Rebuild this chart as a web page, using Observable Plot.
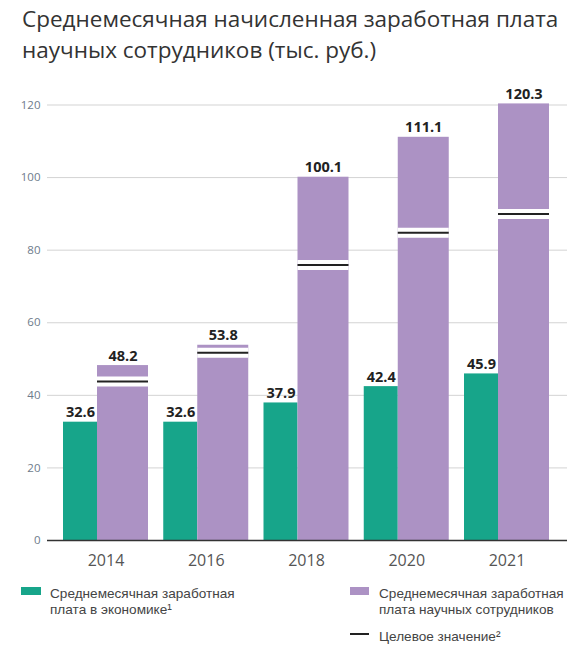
<!DOCTYPE html>
<html>
<head>
<meta charset="utf-8">
<script src="https://cdn.jsdelivr.net/npm/d3@7"></script>
<script src="https://cdn.jsdelivr.net/npm/@observablehq/plot@0.6"></script>
<style>
  html, body { margin: 0; padding: 0; background: #fff; }
  body { width: 583px; height: 645px; position: relative; font-family: "Open Sans", sans-serif; overflow: hidden; }
  #title { position: absolute; left: 22px; top: 3px; font-size: 22.5px; line-height: 31px; color: #333; font-weight: 400; white-space: nowrap; }
  #chart { position: absolute; left: 0; top: 80px; }
  .leg { position: absolute; font-family: "Liberation Sans", sans-serif; font-size: 13.6px; line-height: 15.3px; color: #444; white-space: nowrap; }
  .sw { position: absolute; }
</style>
</head>
<body>
<div id="title">Среднемесячная начисленная заработная плата<br>научных сотрудников (тыс. руб.)</div>
<div id="chart"></div>
<div class="sw" style="left:21px;top:587px;width:20px;height:8px;background:#17a58a"></div>
<div class="leg" style="left:50px;top:586.3px">Среднемесячная заработная</div>
<div class="leg" style="left:50px;top:601.6px">плата в экономике¹</div>
<div class="sw" style="left:350px;top:587px;width:19px;height:8px;background:#ac92c4"></div>
<div class="leg" style="left:379px;top:586.3px">Среднемесячная заработная</div>
<div class="leg" style="left:379px;top:601.6px">плата научных сотрудников</div>
<div class="sw" style="left:350px;top:633px;width:19px;height:2px;background:#222"></div>
<div class="leg" style="left:379px;top:628.6px">Целевое значение²</div>
<script>
const years = ["2014", "2016", "2018", "2020", "2021"];
const economy = [32.6, 32.6, 37.9, 42.4, 45.9];
const scientists = [48.2, 53.8, 100.1, 111.1, 120.3];
const targets = [43.8, 51.7, 75.9, 84.8, 90.0];
const yTicks = [0, 20, 40, 60, 80, 100, 120];

const TEAL = "#17a58a";
const PURPLE = "#ac92c4";
const TW = 34 / 100.25;   // teal bar width in group units
const GW = 85 / 100.25;   // whole group width in group units

const rows = years.map((year, i) => ({
  year, i, economy: economy[i], sci: scientists[i], target: targets[i]
}));

const chart = Plot.plot({
  width: 583,
  height: 495,
  marginLeft: 47,
  marginRight: 16,
  marginTop: 24.5,
  marginBottom: 35,
  style: { fontFamily: "Open Sans", background: "white", overflow: "visible" },
  x: { domain: [-16 / 100.25, 504 / 100.25], axis: null },
  y: { domain: [0, 120], axis: null },
  marks: [
    Plot.gridY(yTicks, { stroke: "#d3d3d3", strokeOpacity: 1, strokeWidth: 1 }),
    Plot.axisY(yTicks, { tickSize: 0, tickPadding: 7, fontSize: 11.5, color: "#6e7b8b" }),
    Plot.rect(rows, { x1: d => d.i, x2: d => d.i + TW, y1: 0, y2: "economy", fill: TEAL }),
    Plot.rect(rows, { x1: d => d.i + TW, x2: d => d.i + GW, y1: 0, y2: "sci", fill: PURPLE }),
    Plot.ruleY(rows, { y: "target", x1: d => d.i + TW, x2: d => d.i + GW, stroke: "white", strokeWidth: 10 }),
    Plot.ruleY(rows, { y: "target", x1: d => d.i + TW, x2: d => d.i + GW, stroke: "#222", strokeWidth: 2 }),
    Plot.ruleY([0], { stroke: "#333", strokeWidth: 1.5 }),
    Plot.text(rows, { x: d => d.i + TW / 2, y: "economy", text: d => d.economy.toFixed(1), lineAnchor: "bottom", dy: -5, fontSize: 14.5, fontWeight: 700, fill: "#222" }),
    Plot.text(rows, { x: d => d.i + (TW + GW) / 2, y: "sci", text: d => d.sci.toFixed(1), lineAnchor: "bottom", dy: -5, fontSize: 14.5, fontWeight: 700, fill: "#222" }),
    Plot.text(rows, { x: d => d.i + GW / 2, y: 0, text: "year", lineAnchor: "top", dy: 14, fontSize: 16, fill: "#555" })
  ]
});
document.getElementById("chart").appendChild(chart);
</script>
</body>
</html>
